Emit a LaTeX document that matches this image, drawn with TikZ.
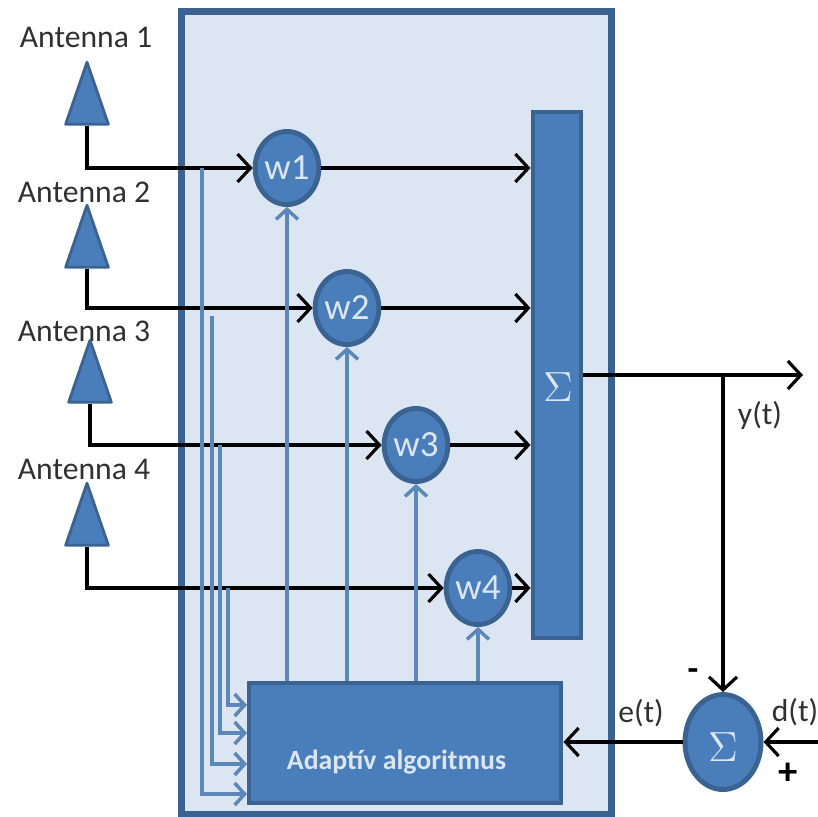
\documentclass[tikz,border=0pt]{standalone}
\usepackage{fontspec}
\setmainfont{Carlito}
\usepackage{xcolor}
\usetikzlibrary{arrows.meta,shapes.geometric}
\definecolor{boxfill}{HTML}{DCE6F2}
\definecolor{nodefill}{HTML}{4A7EBB}
\definecolor{nodeline}{HTML}{3B6392}
\definecolor{feedline}{HTML}{5C88B8}
\definecolor{labelgray}{HTML}{303030}
\tikzset{
    blockbox/.style={draw=nodeline, fill=nodefill, line width=1.4pt, inner sep=0pt, text=boxfill},
    weightnode/.style={blockbox, ellipse, minimum width=0.61cm, minimum height=0.73cm, font=\fontsize{10.5}{12}\selectfont},
    antennatri/.style={blockbox, line width=0.8pt, isosceles triangle, isosceles triangle apex angle=38, shape border rotate=90, minimum height=0.62cm, minimum width=0.42cm, line join=round},
    antennalabel/.style={text=labelgray, font=\fontsize{9}{11}\selectfont},
    sigline/.style={-{Straight Barb[length=1.3mm,width=2.8mm]}, black, line width=0.9pt},
    feedback/.style={-{Straight Barb[length=1mm,width=2.2mm]}, feedline, line width=1pt}
}
\begin{document}
\begin{tikzpicture}
    \useasboundingbox (0,0) rectangle (8.18,8.16);

    % Outer box
    \node[draw=nodeline, fill=boxfill, line width=1.9pt, minimum width=4.3cm, minimum height=8.03cm, inner sep=0pt] (box) at (3.965,4.03) {};

    % Antennas
    \node[antennalabel] (lab1) at (0.86,7.79) {Antenna 1};
    \node[antennalabel] (lab2) at (0.84,6.24) {Antenna 2};
    \node[antennalabel] (lab3) at (0.84,4.85) {Antenna 3};
    \node[antennalabel] (lab4) at (0.84,3.47) {Antenna 4};
    \node[antennatri] (ant1) at (0.87,7.07) {};
    \node[antennatri] (ant2) at (0.87,5.64) {};
    \node[antennatri] (ant3) at (0.90,4.29) {};
    \node[antennatri] (ant4) at (0.87,2.86) {};

    % Weights
    \node[weightnode] (w1) at (2.87,6.48) {w1};
    \node[weightnode] (w2) at (3.47,5.08) {w2};
    \node[weightnode] (w3) at (4.16,3.71) {w3};
    \node[weightnode] (w4) at (4.78,2.28) {w4};

    % Sum bar and algorithm block
    \node[blockbox, minimum width=0.48cm, minimum height=5.26cm] (bar) at (5.57,4.41) {};
    \node[text=boxfill, font=\fontsize{11.5}{14}\selectfont] (bartext) at (5.58,4.29) {$\Sigma$};
    \node[blockbox, minimum width=3.12cm, minimum height=1.2cm] (adapt) at (4.05,0.73) {};
    \node[text=boxfill, font=\fontsize{7.9}{10}\selectfont\bfseries] (adapttext) at (3.965,0.54) {Adaptív algoritmus};
    \node[blockbox, ellipse, minimum width=0.76cm, minimum height=0.95cm] (sum2) at (7.23,0.74) {};
    \node[text=boxfill, font=\fontsize{12}{14}\selectfont] (sumtext) at (7.23,0.69) {$\Sigma$};

    % Free ends
    \coordinate (branch) at (7.23,4.41);
    \coordinate (out) at (8.03,4.41);
    \coordinate (dt) at (8.18,0.74);
    \coordinate (f1) at (2.02,6.48);
    \coordinate (f2) at (2.12,5.00);
    \coordinate (f3) at (2.20,3.71);
    \coordinate (f4) at (2.28,2.28);
    \coordinate (in1) at (2.47,0.22);
    \coordinate (in2) at (2.47,0.52);
    \coordinate (in3) at (2.47,0.83);
    \coordinate (in4) at (2.47,1.11);

    % Signal lines
    \draw[sigline] (ant1.south) |- (w1.west);
    \draw[sigline] (ant2.south) |- (w2.west);
    \draw[sigline] (ant3.south) |- (w3.west);
    \draw[sigline] (ant4.south) |- (w4.west);
    \draw[sigline] (w1.east) -- (w1.east -| bar.west);
    \draw[sigline] (w2.east) -- (w2.east -| bar.west);
    \draw[sigline] (w3.east) -- (w3.east -| bar.west);
    \draw[sigline] (w4.east) -- (w4.east -| bar.west);
    \draw[sigline] (branch -| bar.east) -- (out);
    \draw[sigline] (branch) -- (sum2.north);
    \draw[sigline] (dt) -- (sum2.east);
    \draw[sigline] (sum2.west) -- (sum2.west -| adapt.east);

    % Feedback lines
    \draw[feedback] (adapt.north -| w1.south) -- (w1.south);
    \draw[feedback] (adapt.north -| w2.south) -- (w2.south);
    \draw[feedback] (adapt.north -| w3.south) -- (w3.south);
    \draw[feedback] (adapt.north -| w4.south) -- (w4.south);
    \draw[feedback] (f1) |- (in1);
    \draw[feedback] (f2) |- (in2);
    \draw[feedback] (f3) |- (in3);
    \draw[feedback] (f4) |- (in4);

    % Labels
    \node[antennalabel] (yt) at (7.60,4.01) {y(t)};
    \node[antennalabel] (et) at (6.41,1.03) {e(t)};
    \node[antennalabel] (dtlab) at (7.95,1.04) {d(t)};
    \node[font=\fontsize{10}{12}\selectfont\bfseries] (minus) at (6.93,1.41) {-};
    \node[font=\fontsize{11}{13}\selectfont\bfseries] (plus) at (7.88,0.42) {+};
\end{tikzpicture}
\end{document}
